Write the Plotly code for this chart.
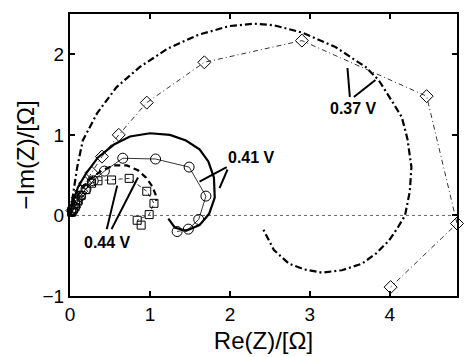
import plotly.graph_objects as go

# ---- data ----
# 0.37 V fit (thick dash-dot)
fit037_x = [0.0, 0.02, 0.04, 0.09, 0.16, 0.34, 0.58, 0.87, 1.22, 1.60, 1.99, 2.30, 2.55, 2.90, 3.32, 3.70, 3.86,
            4.02, 4.15, 4.22, 4.27, 4.25, 4.19, 4.10, 3.99, 3.83, 3.65, 3.40, 3.15, 2.93, 2.74, 2.55, 2.41]
fit037_y = [0.0, 0.12, 0.27, 0.60, 0.93, 1.27, 1.59, 1.84, 2.07, 2.24, 2.35, 2.38, 2.36, 2.27, 2.09, 1.84, 1.68,
            1.43, 1.22, 0.95, 0.60, 0.30, 0.0, -0.15, -0.31, -0.47, -0.60, -0.68, -0.71, -0.67, -0.60, -0.43, -0.16]
# 0.37 V data (diamonds)
dat037_x = [0.03, 0.05, 0.07, 0.10, 0.14, 0.19, 0.27, 0.40, 0.61, 0.96, 1.68, 2.90, 4.46, 4.84, 4.01]
dat037_y = [0.06, 0.10, 0.15, 0.22, 0.30, 0.40, 0.53, 0.73, 1.00, 1.40, 1.90, 2.17, 1.48, -0.10, -0.89]

# 0.41 V fit (thick solid)
fit041_x = [0.0, 0.03, 0.10, 0.20, 0.35, 0.55, 0.75, 1.00, 1.25, 1.45, 1.62, 1.73, 1.80, 1.81, 1.74, 1.62, 1.45, 1.31, 1.23]
fit041_y = [0.0, 0.15, 0.35, 0.52, 0.72, 0.88, 0.98, 1.02, 1.00, 0.93, 0.82, 0.67, 0.47, 0.22, 0.02, -0.12, -0.19, -0.15, -0.04]
# 0.41 V data (circles)
dat041_x = [0.03, 0.06, 0.09, 0.13, 0.20, 0.29, 0.43, 0.66, 1.07, 1.49, 1.70, 1.61, 1.48, 1.34]
dat041_y = [0.05, 0.10, 0.16, 0.24, 0.33, 0.43, 0.55, 0.71, 0.70, 0.60, 0.24, -0.05, -0.17, -0.20]

# 0.44 V fit (thick dashed)
fit044_x = [0.0, 0.03, 0.08, 0.15, 0.25, 0.40, 0.55, 0.71, 0.85, 0.95, 1.03, 1.07, 1.08]
fit044_y = [0.0, 0.10, 0.22, 0.33, 0.45, 0.56, 0.62, 0.62, 0.56, 0.47, 0.36, 0.26, 0.18]
# 0.44 V data (squares)
dat044_x = [0.02, 0.04, 0.07, 0.10, 0.14, 0.20, 0.27, 0.35, 0.52, 0.74, 0.96, 1.05, 0.99, 0.84, 0.89]
dat044_y = [0.04, 0.08, 0.13, 0.19, 0.25, 0.32, 0.40, 0.43, 0.44, 0.46, 0.30, 0.15, 0.01, -0.06, -0.12]

# labels and their pointer lines (x0, y0, x1, y1)
labels = ["0.37 V", "0.41 V", "0.44 V"]
label_x = [3.55, 2.27, 0.47]
label_y = [1.33, 0.72, -0.34]
pointers = [
    [(3.47, 1.83, 3.50, 1.47), (3.55, 1.47, 3.82, 1.68)],
    [(1.62, 0.42, 1.96, 0.60), (1.87, 0.34, 1.97, 0.57)],
    [(0.46, -0.17, 0.59, 0.37), (0.52, -0.17, 0.85, 0.47)],
]

x_ticks = [0, 1, 2, 3, 4]
y_ticks = [-1, 0, 1, 2]
x_range = [0, 4.84]
y_range = [-1, 2.5]

FONT = "Liberation Sans, Arial, Helvetica, sans-serif"

fig = go.Figure()

def add(x, y, dash, width, symbol=None, size=None):
    fig.add_trace(go.Scatter(
        x=x, y=y,
        mode="lines+markers" if symbol else "lines",
        line=dict(color="black", width=width, dash=dash),
        marker=dict(symbol=symbol, size=size, color="black", line=dict(width=1, color="black")) if symbol else None,
        cliponaxis=False if symbol else True,
        showlegend=False, hoverinfo="skip",
    ))

add(fit037_x, fit037_y, "7px,3px,2px,3px", 2.2)
add(fit041_x, fit041_y, "solid", 2.2)
add(fit044_x, fit044_y, "6px,4px", 2.2)
add(dat037_x, dat037_y, "5px,3px,1px,3px", 0.8, "diamond-open", 10)
add(dat041_x, dat041_y, "solid", 0.8, "circle-open", 10)
add(dat044_x, dat044_y, "4px,3px", 0.8, "square-open", 8)

shapes = [dict(type="line", xref="x domain", yref="y", x0=0, x1=1, y0=0, y1=0,
               line=dict(color="#666666", width=1, dash="dot"), layer="below")]
for group in pointers:
    for (x0, y0, x1, y1) in group:
        shapes.append(dict(type="line", xref="x", yref="y", x0=x0, y0=y0, x1=x1, y1=y1,
                           line=dict(color="black", width=2)))

annotations = [dict(x=lx, y=ly, text=f"<b>{t}</b>", showarrow=False, xref="x", yref="y",
                    font=dict(family=FONT, size=16, color="black"))
               for t, lx, ly in zip(labels, label_x, label_y)]

axis_common = dict(showline=True, linecolor="black", linewidth=2, mirror="ticks",
                   ticks="inside", ticklen=5, tickwidth=1.5, tickcolor="black",
                   showgrid=False, zeroline=False,
                   tickfont=dict(family=FONT, size=19, color="black"))

fig.update_layout(
    width=464, height=357,
    margin=dict(l=70, r=5, t=14, b=61),
    paper_bgcolor="white", plot_bgcolor="white",
    xaxis=dict(range=x_range, tickvals=x_ticks, ticktext=[str(v) for v in x_ticks],
               title=dict(text="Re(Z)/[Ω]", font=dict(family=FONT, size=24, color="black"), standoff=8),
               **axis_common),
    yaxis=dict(range=y_range, tickvals=y_ticks, ticktext=[("−" + str(-v)) if v < 0 else str(v) for v in y_ticks],
               title=dict(text="−Im(Z)/[Ω]", font=dict(family=FONT, size=24, color="black"), standoff=1),
               **axis_common),
    shapes=shapes,
    annotations=annotations,
)

fig.write_html("out.html")
